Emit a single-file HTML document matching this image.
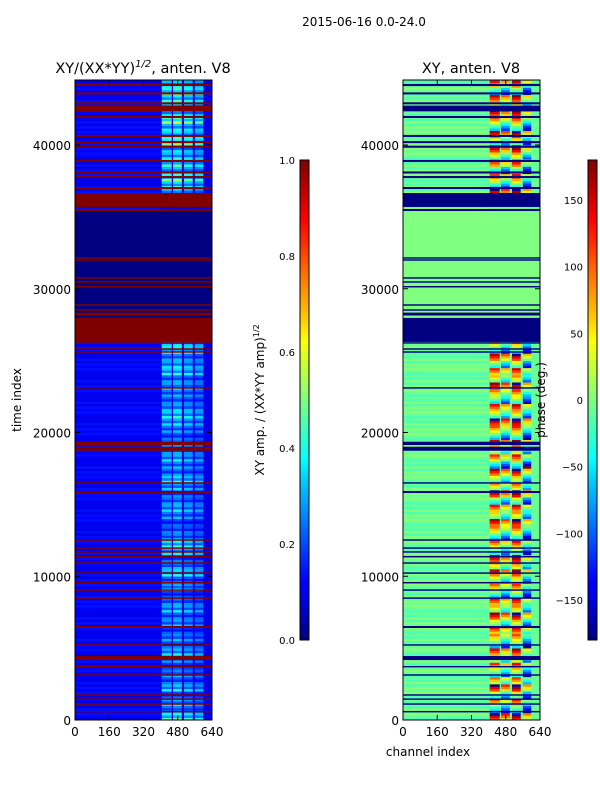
<!DOCTYPE html>
<html><head><meta charset="utf-8"><style>
body{margin:0;background:#fff;width:600px;height:800px;overflow:hidden}
svg{font-family:"DejaVu Sans","Liberation Sans",sans-serif}
</style></head><body>
<svg id="fig" width="600" height="800">
<defs>
<linearGradient id="jet" x1="0" y1="1" x2="0" y2="0">
<stop offset="0" stop-color="#00007f"/><stop offset="0.11" stop-color="#0000ff"/><stop offset="0.125" stop-color="#0000ff"/>
<stop offset="0.34" stop-color="#00d5ff"/><stop offset="0.375" stop-color="#00ffff"/><stop offset="0.5" stop-color="#7fff7f"/>
<stop offset="0.625" stop-color="#ffff00"/><stop offset="0.66" stop-color="#ffd500"/><stop offset="0.875" stop-color="#ff0000"/><stop offset="1" stop-color="#7f0000"/>
</linearGradient>
</defs>
<text x="364" y="26" font-size="12" text-anchor="middle">2015-06-16 0.0-24.0</text>
<text x="143" y="73" font-size="14.5" text-anchor="middle">XY/(XX*YY)<tspan font-size="10" dy="-6" font-style="italic">1/2</tspan><tspan dy="6">, anten. V8</tspan></text>
<text x="471" y="73" font-size="14.5" text-anchor="middle">XY, anten. V8</text>
<g id="ampPanel"></g>
<g id="phPanel"></g>
<g id="axes"></g>
<text transform="translate(21,400) rotate(-90)" font-size="12" text-anchor="middle">time index</text>
<text x="428" y="756" font-size="12" text-anchor="middle">channel index</text>
<rect x="300" y="160" width="9" height="480" fill="url(#jet)" stroke="#000" stroke-width="1"/>
<rect x="588" y="160" width="9" height="480" fill="url(#jet)" stroke="#000" stroke-width="1"/>
<text transform="translate(264,400) rotate(-90)" font-size="12" text-anchor="middle">XY amp. / (XX*YY amp)<tspan font-size="8" dy="-5">1/2</tspan></text>
<text transform="translate(545,400) rotate(-90)" font-size="12" text-anchor="middle">phase (deg.)</text>
</svg>
<script>
const timeMax = 44522;
const channels = [0, 640];
const xTicks = [0, 160, 320, 480, 640];
const yTicks = [0, 10000, 20000, 30000, 40000];
const ampTicks = [0.0, 0.2, 0.4, 0.6, 0.8, 1.0];
const phaseTicks = [-150, -100, -50, 0, 50, 100, 150];
const chunkSize = 500;
const lowAmp = 0.1;
const lowPhase = -8;
const hiColumns = [[405,452],[458,499],[509,550],[560,599]];
const colAmpFactor = [1.0, 1.08, 0.95, 0.85];
const colPhaseShift = [70, -40, 110, -120];
const subAmpFactor = [1.0, 0.6, 0.82];
const hiAmp = [0.45,0.3,0.35,0.22,0.38,0.25,0.3,0.2,0.28,0.36,0.24,0.3,0.22,0.32,0.26,0.35,0.28,0.22,0.34,0.26,
0.4,0.3,0.24,0.36,0.42,0.3,0.26,0.22,0.3,0.35,0.28,0.26,0.33,0.4,0.27,0.3,0.35,0.28,0.26,0.24,
0.3,0.35,0.4,0.33,0.27,0.3,0.35,0.28,0.4,0.35,0.3,0.45,0.35,0,0,0,0,0,0,0,
0,0,0,0,0,0,0,0,0,0,0,0,0,0.38,0.42,0.5,0.38,0.44,0.38,0.34,
0.5,0.42,0.38,0.55,0.38,0.48,0.42,0.5,0.38,0.45];
const hiPhase = [170,-160,40,-90,160,20,-120,60,-30,100,-150,10,80,-60,150,-20,90,-130,30,-80,
120,-10,160,-100,50,-150,20,140,-40,80,-110,170,0,-70,130,-170,60,-20,110,-140,
40,170,-60,90,-120,20,150,-30,70,-100,130,-150,30,0,0,0,0,0,0,0,
0,0,0,0,0,0,0,0,0,0,0,0,0,160,-120,60,-160,100,-40,170,
-80,140,-130,50,160,-60,120,-150,80,-170];
const zeroBands = [[28000,35480]];
const flagBands = [[44100,44250],[43520,43660],[42830,42970],[42340,42740],[41880,42020],[40560,40700],[40130,40270],[39810,39950],
[38820,38960],[38020,38160],[37700,37840],[36940,37080],[35690,36660],[35410,35550],[32090,32190],[31950,32050],[30700,30800],
[30420,30520],[30090,30190],[28820,28920],[28470,28570],[28140,28340],[26300,27970],[26180,26280],[25760,25860],[25550,25650],
[23050,23150],[19130,19360],[18730,19010],[16440,16540],[15790,15930],[12470,12570],[11910,12010],[11640,11740],[11310,11410],
[10870,10970],[10170,10270],[9500,9600],[8990,9090],[8430,8530],[6400,6540],[5170,5270],[4170,4450],[3660,3760],[3080,3180],
[1690,1790],[1400,1500],[1060,1160],[530,630]];

function jet(v){v=Math.max(0,Math.min(1,v));
 const f=(x)=>Math.max(0,Math.min(1,1.5-Math.abs(4*v-x)));
 const r=f(3),g=f(2),b=f(1);
 return `rgb(${Math.round(r*255)},${Math.round(g*255)},${Math.round(b*255)})`;}
const NS='http://www.w3.org/2000/svg';
const panels=[{x0:75,x1:212,g:'ampPanel'},{x0:403,x1:540,g:'phPanel'}];
const yTop=80,yBot=720;
function yScale(t){return yBot-(t/timeMax)*(yBot-yTop);}
function xScale(p,c){return p.x0+(c-channels[0])/(channels[1]-channels[0])*(p.x1-p.x0);}
function ampCol(a){return jet(a);}
function phCol(p){let q=((p+180)%360+360)%360-180;return jet((q+180)/360);}
function rect(g,x,y,w,h,fill,name){const r=document.createElementNS(NS,'rect');
 r.setAttribute('x',x);r.setAttribute('y',y);r.setAttribute('width',w);r.setAttribute('height',h);r.setAttribute('fill',fill);
 
 
 g.appendChild(r);return r;}
panels.forEach((p,pi)=>{
 const g=document.getElementById(p.g);
 const isAmp=pi===0;
 rect(g,p.x0,yTop,p.x1-p.x0,yBot-yTop,isAmp?ampCol(lowAmp):phCol(lowPhase),'heatmap-background');
 hiAmp.forEach((a,i)=>{
  const t0=i*chunkSize,t1=Math.min(timeMax,(i+1)*chunkSize);
  for(let s=0;s<3;s++){
   const ta=t0+s*(t1-t0)/3,tb=t0+(s+1)*(t1-t0)/3;
   const ya=yScale(tb),h=yScale(ta)-ya;
   rect(g,p.x0,ya,xScale(p,400)-p.x0,h+0.3,isAmp?ampCol(lowAmp+0.02*((i+s)%3)):phCol(lowPhase+10*((i+s)%3-1)),'heatmap-cell');
   if(a===0) continue;
   hiColumns.forEach((c,ci)=>{
    const xa=xScale(p,c[0]),xb=xScale(p,c[1]);
    const fill=isAmp?ampCol(a*colAmpFactor[ci]*subAmpFactor[s]):phCol(hiPhase[i]*0.6+colPhaseShift[ci]*0.5+s*35-20);
    rect(g,xa,ya,xb-xa,h+0.3,fill,'heatmap-cell');
   });
  }
 });
 zeroBands.forEach(b=>{const ya=yScale(b[1]);rect(g,p.x0,ya,p.x1-p.x0,yScale(b[0])-ya,isAmp?ampCol(0):phCol(0),'zero-band');});
 flagBands.forEach(b=>{const ya=yScale(b[1]);rect(g,p.x0,ya,p.x1-p.x0,Math.max(1,yScale(b[0])-ya),isAmp?ampCol(1):phCol(-180),'flag-band');});
});
const ax=document.getElementById('axes');
function line(x1,y1,x2,y2,name,w){const l=document.createElementNS(NS,'line');
 l.setAttribute('x1',x1);l.setAttribute('y1',y1);l.setAttribute('x2',x2);l.setAttribute('y2',y2);
 l.setAttribute('stroke','#000');l.setAttribute('stroke-width',w||1);
 
 
 ax.appendChild(l);}
function text(x,y,s,anchor,size,name){const t=document.createElementNS(NS,'text');
 t.setAttribute('x',x);t.setAttribute('y',y);t.setAttribute('text-anchor',anchor);t.setAttribute('font-size',size);t.textContent=s;
 
 
 ax.appendChild(t);}
panels.forEach(p=>{
 const r=document.createElementNS(NS,'rect');
 r.setAttribute('x',p.x0);r.setAttribute('y',yTop);r.setAttribute('width',p.x1-p.x0);r.setAttribute('height',yBot-yTop);
 r.setAttribute('fill','none');r.setAttribute('stroke','#000');
 
 
 ax.appendChild(r);
 xTicks.forEach(v=>{const x=xScale(p,v);line(x,yBot,x,yBot-5,'x-tick');line(x,yTop,x,yTop+5,'x-tick');text(x,736,String(v),'middle',12,'x-tick-label');});
 yTicks.forEach(v=>{const y=yScale(v);line(p.x0,y,p.x0+5,y,'y-tick');line(p.x1,y,p.x1-5,y,'y-tick');text(p.x0-4,y+5,String(v),'end',12,'y-tick-label');});
});
ampTicks.forEach(v=>{const y=640-v*480;line(304,y,309,y,'amp-colorbar-tick');text(295,y+4,v.toFixed(1),'end',10,'amp-colorbar-tick-label');});
phaseTicks.forEach(v=>{const y=640-(v+180)/360*480;line(592,y,597,y,'phase-colorbar-tick');text(583,y+4,String(v).replace('-','\u2212'),'end',10,'phase-colorbar-tick-label');});
</script>
</body></html>
